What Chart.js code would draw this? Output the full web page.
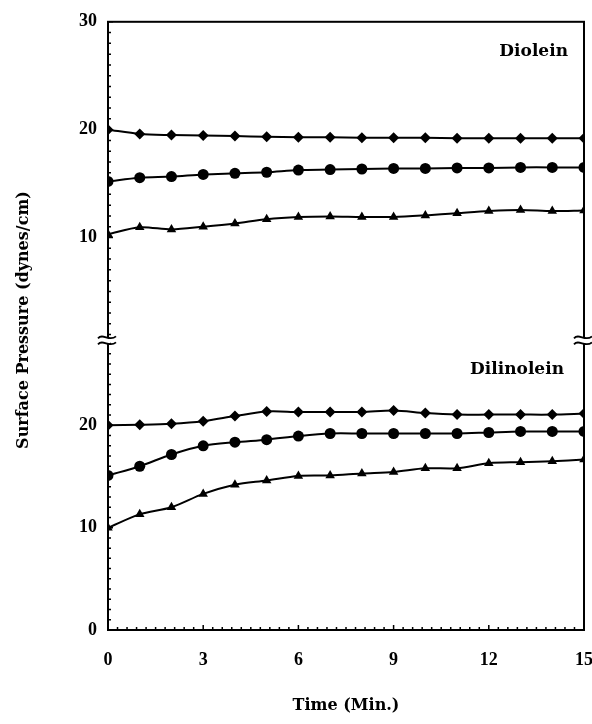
<!DOCTYPE html>
<html>
<head>
<meta charset="utf-8">
<script src="https://cdn.jsdelivr.net/npm/chart.js@4.4.1/dist/chart.umd.min.js"></script>
<style>
  html, body { margin: 0; padding: 0; background: #fff; }
  #wrap { position: relative; width: 592px; height: 724px; }
</style>
</head>
<body>
<div id="wrap"><canvas id="chart"></canvas></div>
<script>
// time axis (min.)
const minutes = [0, 1, 2, 3, 4, 5, 6, 7, 8, 9, 10, 11, 12, 13, 14, 15];

// Diolein (upper panel)
const dioleinHigh = [20.0, 19.6, 19.5, 19.45, 19.4, 19.35, 19.3, 19.3, 19.25, 19.25, 19.25, 19.2, 19.2, 19.2, 19.2, 19.2];
const dioleinMid  = [15.2, 15.55, 15.65, 15.85, 15.95, 16.05, 16.25, 16.3, 16.35, 16.4, 16.4, 16.45, 16.45, 16.5, 16.5, 16.5];
const dioleinLow  = [10.3, 10.95, 10.75, 11.0, 11.3, 11.7, 11.9, 11.95, 11.9, 11.9, 12.05, 12.25, 12.45, 12.55, 12.45, 12.5];

// Dilinolein (lower panel)
const dilinoleinHigh = [20.0, 20.05, 20.15, 20.4, 20.9, 21.35, 21.3, 21.3, 21.3, 21.45, 21.2, 21.05, 21.05, 21.05, 21.05, 21.15];
const dilinoleinMid  = [15.1, 16.0, 17.15, 18.0, 18.35, 18.6, 18.95, 19.2, 19.2, 19.2, 19.2, 19.2, 19.3, 19.4, 19.4, 19.4];
const dilinoleinLow  = [10.0, 11.3, 12.0, 13.3, 14.2, 14.6, 15.05, 15.1, 15.3, 15.45, 15.8, 15.8, 16.3, 16.4, 16.5, 16.65];

const xTicks = [0, 3, 6, 9, 12, 15];
const yLabelValues = [0, 10, 20, 30];
const panelNames = ['Diolein', 'Dilinolein'];

const tickFont = { family: 'Liberation Serif', size: 18, weight: 'bold' };
const titleFont = { family: 'DejaVu Serif', size: 16, weight: 'bold' };

function series(values, shape, axis) {
    return {
        data: minutes.map((t, i) => ({ x: t, y: values[i] })),
        yAxisID: axis,
        borderColor: '#000',
        backgroundColor: '#000',
        borderWidth: 2,
        pointStyle: shape,
        pointRadius: 5.5,
        pointBorderWidth: 0,
        tension: 0.3,
        fill: false
    };
}

// frame, inward minor ticks, axis breaks and free text
const framePlugin = {
    id: 'frame',
    afterDatasetsDraw(chart) {
        const { ctx, chartArea: a, scales } = chart;
        const top = scales.yTop, bot = scales.yBot, x = scales.x;
        ctx.save();
        ctx.strokeStyle = '#000';
        ctx.lineWidth = 2;
        ctx.strokeRect(a.left, a.top, a.right - a.left, a.bottom - a.top);

        ctx.lineWidth = 1.5;
        ctx.beginPath();
        for (let k = 0; k <= 50; k++) {
            const px = x.getPixelForValue(k * 3 / 10);
            const len = k % 10 === 0 ? 5 : 3;
            ctx.moveTo(px, a.bottom);
            ctx.lineTo(px, a.bottom - len);
        }
        [top, bot].forEach(s => {
            for (let v = Math.ceil(s.min); v <= s.max; v++) {
                const py = s.getPixelForValue(v);
                const len = v % 10 === 0 ? 5 : 3;
                ctx.moveTo(a.left, py);
                ctx.lineTo(a.left + len, py);
            }
        });
        ctx.stroke();

        // axis breaks
        const yb = top.bottom;
        [a.left, a.right].forEach(x0 => {
            ctx.fillStyle = '#fff';
            ctx.fillRect(x0 - 2, yb - 3, 4, 6);
            ctx.lineWidth = 1.8;
            [-3, 3].forEach(off => {
                ctx.beginPath();
                ctx.moveTo(x0 - 10, yb + off + 1);
                ctx.bezierCurveTo(x0 - 5, yb + off - 5, x0 + 1, yb + off + 5, x0 + 8, yb + off - 1);
                ctx.stroke();
            });
        });

        ctx.fillStyle = '#000';
        ctx.font = 'bold 17px "DejaVu Serif"';
        ctx.textAlign = 'right';
        ctx.textBaseline = 'middle';
        ctx.fillText(panelNames[0], a.right - 16, top.getPixelForValue(27.2));
        ctx.fillText(panelNames[1], a.right - 20, bot.getPixelForValue(25.4));

        ctx.font = 'bold 16px "DejaVu Serif"';
        ctx.textAlign = 'center';
        ctx.translate(24, 320);
        ctx.rotate(-Math.PI / 2);
        ctx.fillText('Surface Pressure (dynes/cm)', 0, 0);
        ctx.restore();
    }
};

const yLabel = v => yLabelValues.includes(v) ? String(v) : '';

new Chart(document.getElementById('chart'), {
    type: 'line',
    data: {
        datasets: [
            series(dioleinHigh, 'rectRot', 'yTop'),
            series(dioleinMid, 'circle', 'yTop'),
            series(dioleinLow, 'triangle', 'yTop'),
            series(dilinoleinHigh, 'rectRot', 'yBot'),
            series(dilinoleinMid, 'circle', 'yBot'),
            series(dilinoleinLow, 'triangle', 'yBot')
        ]
    },
    options: {
        responsive: true,
        maintainAspectRatio: false,
        animation: false,
        layout: { padding: { left: 40, right: 8, top: 21, bottom: 0 } },
        plugins: {
            legend: { display: false },
            tooltip: { enabled: false }
        },
        scales: {
            x: {
                type: 'linear',
                position: 'bottom',
                min: 0,
                max: 15,
                afterBuildTicks: s => { s.ticks = xTicks.map(v => ({ value: v })); },
                afterFit: s => { s.height = 94; s.paddingLeft = 0; s.paddingRight = 0; },
                grid: { display: false, drawTicks: false },
                border: { display: false },
                ticks: { color: '#000', font: tickFont, padding: 20, maxRotation: 0 },
                title: { display: true, text: 'Time (Min.)', color: '#000', font: titleFont, padding: { top: 0, bottom: 9 } }
            },
            yBot: {
                type: 'linear',
                position: 'left',
                stack: 'panels',
                stackWeight: 290,
                min: 0,
                max: 28.3,
                afterFit: s => { s.width = 68; },
                grid: { display: false, drawTicks: false },
                border: { display: false },
                ticks: { stepSize: 10, color: '#000', font: tickFont, padding: 11, callback: yLabel }
            },
            yTop: {
                type: 'linear',
                position: 'left',
                stack: 'panels',
                stackWeight: 319,
                min: 0.46,
                max: 30,
                afterFit: s => { s.width = 68; },
                grid: { display: false, drawTicks: false },
                border: { display: false },
                ticks: { stepSize: 10, color: '#000', font: tickFont, padding: 11, callback: yLabel }
            }
        }
    },
    plugins: [framePlugin]
});
</script>
</body>
</html>
